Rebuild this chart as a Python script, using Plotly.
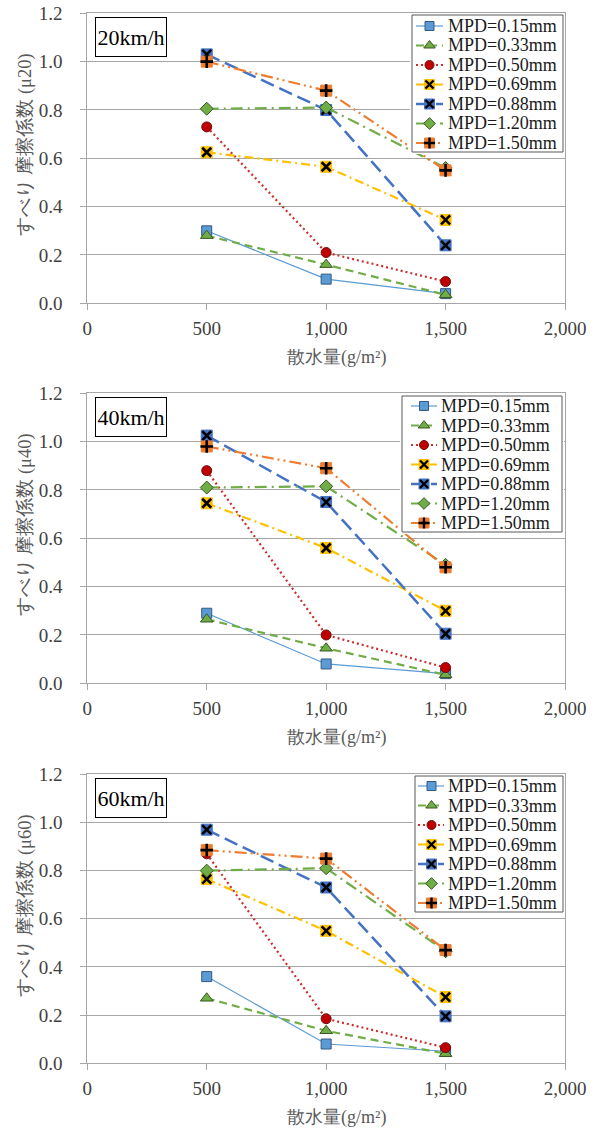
import plotly.graph_objects as go

W, H = 595, 1131

# ---------------- data ----------------
water = [500, 1000, 1500]
mpd_labels = ["MPD=0.15mm", "MPD=0.33mm", "MPD=0.50mm", "MPD=0.69mm",
              "MPD=0.88mm", "MPD=1.20mm", "MPD=1.50mm"]

# rows follow mpd_labels order, columns follow water
mu20 = [
    [0.30, 0.10, 0.04],
    [0.28, 0.16, 0.035],
    [0.73, 0.21, 0.09],
    [0.625, 0.565, 0.345],
    [1.03, 0.80, 0.24],
    [0.805, 0.81, 0.56],
    [1.00, 0.88, 0.55],
]
mu40 = [
    [0.29, 0.08, 0.04],
    [0.265, 0.145, 0.035],
    [0.88, 0.20, 0.065],
    [0.745, 0.56, 0.30],
    [1.025, 0.75, 0.205],
    [0.81, 0.815, 0.49],
    [0.98, 0.89, 0.48],
]
mu60 = [
    [0.36, 0.08, 0.05],
    [0.27, 0.135, 0.04],
    [0.87, 0.185, 0.065],
    [0.765, 0.55, 0.275],
    [0.97, 0.73, 0.195],
    [0.80, 0.81, 0.465],
    [0.885, 0.85, 0.47],
]
speed_labels = ["20km/h", "40km/h", "60km/h"]
ytitles = ["すべり 摩擦係数 (μ20)", "すべり 摩擦係数 (μ40)", "すべり 摩擦係数 (μ60)"]
xtitle = "散水量(g/m²)"
x_ticks = [0, 500, 1000, 1500, 2000]
y_ticks = [0.0, 0.2, 0.4, 0.6, 0.8, 1.0, 1.2]

# ---------------- styles ----------------
styles = [
    dict(color="#5B9BD5", dash="solid", width=1.2, symbol="square", fill="#5B9BD5", mline="#35597F", size=10, ov=None),
    dict(color="#70AD47", dash="8px,5px", width=2.2, symbol="triangle-up", fill="#70AD47", mline="#385723", size=11, ov=None),
    dict(color="#C9302C", dash="2px,3px", width=2.2, symbol="circle", fill="#C00000", mline="#6E1010", size=10, ov=None),
    dict(color="#FFC000", dash="9px,4px,2px,4px", width=2.2, symbol="square", fill="#FFC000", mline="#FFC000", size=11, ov="x-thin"),
    dict(color="#4472C4", dash="14px,6px", width=2.5, symbol="square", fill="#4472C4", mline="#4472C4", size=11, ov="x-thin"),
    dict(color="#70AD47", dash="12px,5px,2px,5px", width=2.2, symbol="diamond", fill="#70AD47", mline="#385723", size=10, ov=None),
    dict(color="#ED7D31", dash="12px,4px,2px,4px,2px,4px", width=2.2, symbol="square", fill="#ED7D31", mline="#ED7D31", size=11, ov="cross-thin"),
]

SERIF = "Liberation Serif"
JP = "Liberation Serif"

# panel geometry (page pixels)
plot_left, plot_right = 87.3, 565.0
panels_px = [(13.3, 303.3), (393.3, 683.3), (774.3, 1063.3)]
legends_px = [
    dict(left=412, top=15, right=563, bottom=152, lx0=416, lx1=443, mx=429.5, tx=446, row0=26),
    dict(left=402, top=396, right=562, bottom=532, lx0=411, lx1=437, mx=424, tx=439, row0=406),
    dict(left=415, top=776, right=563, bottom=912, lx0=418, lx1=444, mx=431.5, tx=446, row0=786),
]
row_step = 19.5

fig = go.Figure()
layout = dict(
    width=W, height=H, margin=dict(l=0, r=0, t=0, b=0, autoexpand=False),
    paper_bgcolor="white", plot_bgcolor="white", showlegend=False,
    annotations=[],
)

def px2fx(p):
    return p / W

def px2fy(p):
    return 1 - p / H

datasets = [mu20, mu40, mu60]

for i, (data, (top, bottom)) in enumerate(zip(datasets, panels_px)):
    k = i + 1
    xs = "" if k == 1 else str(k)
    layout["xaxis" + xs] = dict(
        domain=[px2fx(plot_left), px2fx(plot_right)], range=[0, 2000],
        anchor="y" + xs, tickvals=x_ticks, tickformat=",", showgrid=False,
        showline=True, mirror=True, linecolor="#A6A6A6", linewidth=1,
        ticks="outside", ticklen=6, tickcolor="#A6A6A6", zeroline=False,
        tickfont=dict(family=SERIF, size=19, color="#404040"),
        ticklabelstandoff=2, fixedrange=True, automargin=False,
        ticklabeloverflow="allow",
    )
    layout["yaxis" + xs] = dict(
        domain=[px2fy(bottom), px2fy(top)], range=[0, 1.2],
        anchor="x" + xs, tickvals=y_ticks, tickformat=".1f",
        showgrid=True, gridcolor="#A6A6A6", gridwidth=1,
        showline=True, mirror=True, linecolor="#A6A6A6", linewidth=1,
        ticks="outside", ticklen=6, tickcolor="#A6A6A6", zeroline=False,
        tickfont=dict(family=SERIF, size=19, color="#404040"),
        ticklabelstandoff=14, fixedrange=True, automargin=False,
        ticklabeloverflow="allow",
    )
    for s, (name, vals) in enumerate(zip(mpd_labels, data)):
        st = styles[s]
        fig.add_trace(go.Scatter(
            x=water, y=vals, name=name, mode="lines+markers",
            xaxis="x" + xs, yaxis="y" + xs, cliponaxis=False,
            line=dict(color=st["color"], width=st["width"], dash=st["dash"]),
            marker=dict(symbol=st["symbol"], size=st["size"], color=st["fill"],
                        line=dict(color=st["mline"], width=1)),
        ))
        if st["ov"]:
            fig.add_trace(go.Scatter(
                x=water, y=vals, name=name, mode="markers",
                xaxis="x" + xs, yaxis="y" + xs, cliponaxis=False,
                marker=dict(symbol=st["ov"], size=9, color="black",
                            line=dict(color="black", width=2.6)),
            ))
    # panel label
    layout["annotations"].append(dict(
        text=speed_labels[i], xref="paper", yref="paper",
        x=px2fx(131), y=px2fy(top + 24), xanchor="center", yanchor="middle",
        showarrow=False, font=dict(family=SERIF, size=22, color="black"),
        bordercolor="black", borderwidth=1, borderpad=1, bgcolor="white",
        width=68, height=36,
    ))
    # y title
    layout["annotations"].append(dict(
        text=ytitles[i], xref="paper", yref="paper",
        x=px2fx(25), y=px2fy(top + 132), xanchor="center", yanchor="middle",
        textangle=-90, showarrow=False,
        font=dict(family=JP, size=18.5, color="#595959"),
    ))
    # x title
    layout["annotations"].append(dict(
        text=xtitle, xref="paper", yref="paper",
        x=px2fx(336), y=px2fy(bottom + 54), xanchor="center", yanchor="middle",
        showarrow=False, font=dict(family=JP, size=18, color="#595959"),
    ))

# ---------------- legends (one box per panel) ----------------
for i, lg in enumerate(legends_px):
    k = str(4 + i)
    pad = 2
    layout["xaxis" + k] = dict(
        domain=[px2fx(lg["left"] - pad), px2fx(lg["right"] + pad)],
        range=[lg["left"] - pad, lg["right"] + pad], anchor="y" + k,
        visible=False, fixedrange=True, automargin=False,
    )
    layout["yaxis" + k] = dict(
        domain=[px2fy(lg["bottom"] + pad), px2fy(lg["top"] - pad)],
        range=[lg["bottom"] + pad, lg["top"] - pad], anchor="x" + k,
        visible=False, fixedrange=True, automargin=False,
    )
    fig.add_trace(go.Scatter(
        x=[lg["left"], lg["right"], lg["right"], lg["left"], lg["left"]],
        y=[lg["top"], lg["top"], lg["bottom"], lg["bottom"], lg["top"]],
        mode="lines", fill="toself", fillcolor="white",
        line=dict(color="#595959", width=1), xaxis="x" + k, yaxis="y" + k,
        hoverinfo="skip",
    ))
    for s, name in enumerate(mpd_labels):
        st = styles[s]
        ry = lg["row0"] + s * row_step
        fig.add_trace(go.Scatter(
            x=[lg["lx0"], lg["lx1"]], y=[ry, ry], mode="lines",
            line=dict(color=st["color"], width=st["width"], dash=st["dash"]),
            xaxis="x" + k, yaxis="y" + k, hoverinfo="skip",
        ))
        fig.add_trace(go.Scatter(
            x=[lg["mx"]], y=[ry], mode="markers", cliponaxis=False,
            marker=dict(symbol=st["symbol"], size=st["size"] - 1, color=st["fill"],
                        line=dict(color=st["mline"], width=1)),
            xaxis="x" + k, yaxis="y" + k, hoverinfo="skip",
        ))
        if st["ov"]:
            fig.add_trace(go.Scatter(
                x=[lg["mx"]], y=[ry], mode="markers", cliponaxis=False,
                marker=dict(symbol=st["ov"], size=8, color="black",
                            line=dict(color="black", width=2.4)),
                xaxis="x" + k, yaxis="y" + k, hoverinfo="skip",
            ))
        layout["annotations"].append(dict(
            text=name, xref="x" + k, yref="y" + k, x=lg["tx"], y=ry,
            xanchor="left", yanchor="middle", showarrow=False,
            font=dict(family=SERIF, size=18, color="#1A1A1A"),
        ))

fig.update_layout(**layout)
# remove the default 8px body margin so the 595x1131 figure fills the window
fig.write_html(
    "out.html",
    config={"displayModeBar": False},
    post_script="document.body.style.margin='0';",
)
